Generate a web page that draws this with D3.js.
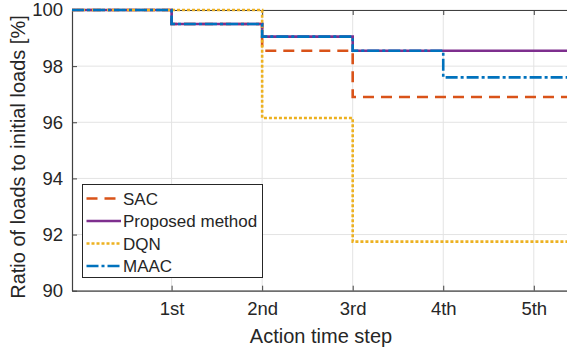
<!DOCTYPE html>
<meta charset="utf-8">
<html>
<head>
  <style>
    body { margin: 0; background: #ffffff; }
    text { font-family: "Liberation Sans", Arial, sans-serif; fill: #262626; }
  </style>
</head>
<body>
<div id="my_dataviz"></div>
<script src="https://d3js.org/d3.v7.min.js"></script>
<script>

// data: value of each line between steps (before 1st, 1st-2nd, ... , after 4th)
var stepTicks = [1, 2, 3, 4, 5];
var stepLabels = ["1st", "2nd", "3rd", "4th", "5th"];
var yTicks = [90, 92, 94, 96, 98, 100];

var sac      = [100, 99.5, 98.55, 96.9, 96.9];
var proposed = [100, 99.5, 99.05, 98.55, 98.55];
var dqn      = [100, 100, 96.15, 91.75, 91.75];
var maac     = [100, 99.5, 99.05, 98.55, 97.6];

var seriesNames = ["SAC", "Proposed method", "DQN", "MAAC"];

// set the dimensions of the graph
var W = 567, H = 351;

var svg = d3.select("#my_dataviz")
  .append("svg")
    .attr("width", W)
    .attr("height", H);

var x = d3.scaleLinear()
  .domain([-0.1, 5.4])
  .range([72, 570]);

var y = d3.scaleLinear()
  .domain([90, 100])
  .range([290.7, 10]);

// grid
svg.append("g").selectAll("line.vg")
  .data(stepTicks).enter().append("line")
    .attr("x1", function(d) { return x(d); })
    .attr("x2", function(d) { return x(d); })
    .attr("y1", y(90)).attr("y2", y(100))
    .attr("stroke", "#e3e3e3").attr("stroke-width", 1);
svg.append("g").selectAll("line.hg")
  .data(yTicks).enter().append("line")
    .attr("x1", x.range()[0]).attr("x2", x.range()[1])
    .attr("y1", function(d) { return y(d); })
    .attr("y2", function(d) { return y(d); })
    .attr("stroke", "#e3e3e3").attr("stroke-width", 1);

// axes
var xAxis = svg.append("g")
  .attr("transform", "translate(0," + y(90) + ")")
  .call(d3.axisBottom(x).tickValues(stepTicks).tickSizeInner(-5).tickSizeOuter(0)
    .tickPadding(11).tickFormat(function(d, i) { return stepLabels[i]; }));
var xTop = svg.append("g")
  .attr("transform", "translate(0," + y(100) + ")")
  .call(d3.axisTop(x).tickValues(stepTicks).tickSizeInner(-5).tickSizeOuter(0).tickFormat(""));
var yAxis = svg.append("g")
  .attr("transform", "translate(" + x(-0.1) + ",0)")
  .call(d3.axisLeft(y).tickValues(yTicks).tickSizeInner(-5).tickSizeOuter(0).tickPadding(9));

[xAxis, xTop, yAxis].forEach(function(a) {
  a.select(".domain").attr("stroke", "#404040").attr("stroke-width", 1.2);
  a.selectAll(".tick line").attr("stroke", "#404040");
  a.selectAll("text").style("font-size", "18.5px").attr("fill", "#262626");
});

// lines
function stepPoints(vals) {
  var pts = [];
  var bounds = [x.domain()[0]].concat(stepTicks.slice(0, vals.length - 1)).concat([x.domain()[1]]);
  for (var i = 0; i < vals.length; i++) {
    pts.push([bounds[i], vals[i]]);
    pts.push([bounds[i + 1], vals[i]]);
  }
  return pts;
}

var line = d3.line()
  .x(function(d) { return x(d[0]); })
  .y(function(d) { return y(d[1]); });

var styles = [
  {data: sac, color: "#D95319", dash: "11,7"},
  {data: proposed, color: "#7E2F8E", dash: null},
  {data: dqn, color: "#EDB120", dash: "3,2"},
  {data: maac, color: "#0072BD", dash: "12,3,3,3"}
];

var lineG = svg.append("g");
styles.forEach(function(s) {
  lineG.append("path")
    .attr("d", line(stepPoints(s.data)))
    .attr("fill", "none")
    .attr("stroke", s.color)
    .attr("stroke-width", 2.6)
    .attr("stroke-dasharray", s.dash);
});

// axis titles
svg.append("text")
  .attr("x", 321).attr("y", 343)
  .attr("text-anchor", "middle")
  .style("font-size", "20px")
  .text("Action time step");

svg.append("text")
  .attr("transform", "translate(25,157) rotate(-90)")
  .attr("text-anchor", "middle")
  .style("font-size", "20px")
  .text("Ratio of loads to initial loads [%]");

// legend
var leg = svg.append("g");
leg.append("rect")
  .attr("x", 82.5).attr("y", 184.5)
  .attr("width", 180).attr("height", 93)
  .attr("fill", "#ffffff").attr("stroke", "#262626").attr("stroke-width", 1);

styles.forEach(function(s, i) {
  var ly = 198.5 + i * 22.5;
  leg.append("line")
    .attr("x1", 86.5).attr("x2", 121)
    .attr("y1", ly).attr("y2", ly)
    .attr("stroke", s.color).attr("stroke-width", 2.6)
    .attr("stroke-dasharray", s.dash);
  leg.append("text")
    .attr("x", 123).attr("y", ly)
    .attr("dy", "0.36em")
    .style("font-size", "17px")
    .text(seriesNames[i]);
});

</script>
</body>
</html>
